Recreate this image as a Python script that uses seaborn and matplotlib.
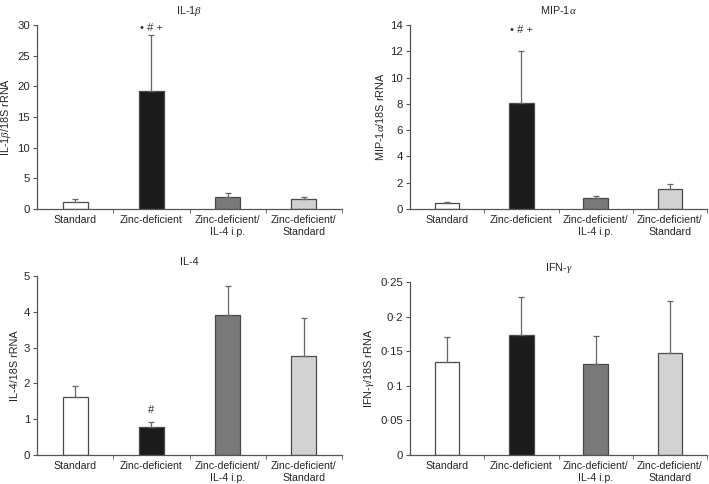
import matplotlib
matplotlib.use("Agg")
import matplotlib.pyplot as plt
import numpy as np
import pandas as pd
import seaborn as sns

GROUPS = ["Standard", "Zinc-deficient", "Zinc-deficient/\nIL-4 i.p.", "Zinc-deficient/\nStandard"]
COLORS = ["#ffffff", "#1b1b1b", "#7a7a7a", "#d2d2d2"]

# mean values and top of the (upward) error bars
IL1B_MEAN = [1.1, 19.2, 2.0, 1.7]
IL1B_TOP = [1.6, 28.4, 2.6, 2.0]
MIP_MEAN = [0.45, 8.1, 0.85, 1.55]
MIP_TOP = [0.52, 12.0, 1.02, 1.92]
IL4_MEAN = [1.62, 0.77, 3.9, 2.77]
IL4_TOP = [1.93, 0.93, 4.72, 3.83]
IFN_MEAN = [0.134, 0.173, 0.131, 0.147]
IFN_TOP = [0.170, 0.229, 0.172, 0.222]

IL1B_TICKS = [0, 5, 10, 15, 20, 25, 30]
MIP_TICKS = [0, 2, 4, 6, 8, 10, 12, 14]
IL4_TICKS = [0, 1, 2, 3, 4, 5]
IFN_TICKS = [0, 0.05, 0.1, 0.15, 0.2, 0.25]
IFN_TICK_LABELS = ["0", "0\u00b705", "0\u00b71", "0\u00b715", "0\u00b72", "0\u00b725"]

sns.set_style("ticks")
plt.rcParams["font.family"] = ["Liberation Sans", "DejaVu Sans"]
plt.rcParams["mathtext.fontset"] = "custom"
plt.rcParams["mathtext.it"] = "Liberation Serif:italic"
plt.rcParams["font.size"] = 8

AXCOL = "#555555"

fig = plt.figure(figsize=(7.09, 4.84), dpi=100)
W, H = 709, 484


def make_ax(x0, x1, ytop, ybot):
    return fig.add_axes([x0 / W, 1 - ybot / H, (x1 - x0) / W, (ybot - ytop) / H])


def panel(ax, title, ylabel, means, tops, ticks, ticklabels=None, note=None):
    df = pd.DataFrame({"group": GROUPS, "value": means})
    sns.barplot(data=df, x="group", y="value", hue="group", palette=COLORS,
                width=0.33, edgecolor="#4a4a4a", linewidth=0.9, legend=False,
                errorbar=None, ax=ax)
    xs = np.arange(len(GROUPS))
    up = np.array(tops) - np.array(means)
    ax.errorbar(xs, means, yerr=[np.zeros(len(xs)), up], fmt="none",
                ecolor="#666666", elinewidth=0.9, capsize=2.5, capthick=0.9, zorder=1)
    ax.set_xlim(-0.5, 3.5)
    ax.set_ylim(0, ticks[-1])
    ax.set_yticks(ticks)
    if ticklabels is not None:
        ax.set_yticklabels(ticklabels)
    ax.set_xticks(xs)
    ax.set_xticklabels(GROUPS, fontsize=7.6, linespacing=1.25)
    ax.set_xticks(xs + 0.5, minor=True)
    ax.tick_params(axis="x", which="major", length=0, pad=4)
    ax.tick_params(axis="x", which="minor", length=3, color=AXCOL)
    ax.tick_params(axis="y", length=3, color=AXCOL, labelsize=8.2, pad=2)
    ax.set_xlabel("")
    ax.set_ylabel(ylabel, fontsize=7.8, labelpad=3)
    ax.set_title(title, fontsize=7.8, pad=8)
    for s in ["top", "right"]:
        ax.spines[s].set_visible(False)
    for s in ["left", "bottom"]:
        ax.spines[s].set_color(AXCOL)
        ax.spines[s].set_linewidth(0.9)
    if note is not None:
        txt, idx, yv = note
        ax.text(idx, yv, txt, ha="center", va="center", fontsize=8, color="#333333")


ax1 = make_ax(37, 342, 25, 209)
panel(ax1, r"IL-1$\mathit{\beta}$", r"IL-1$\mathit{\beta}$/18S rRNA",
      IL1B_MEAN, IL1B_TOP, IL1B_TICKS, note=("\u2022 # +", 1, 29.5))

ax2 = make_ax(410, 707, 25, 209)
panel(ax2, r"MIP-1$\mathit{\alpha}$", r"MIP-1$\mathit{\alpha}$/18S rRNA",
      MIP_MEAN, MIP_TOP, MIP_TICKS, note=("\u2022 # +", 1, 13.6))

ax3 = make_ax(37, 342, 276, 455)
panel(ax3, "IL-4", "IL-4/18S rRNA", IL4_MEAN, IL4_TOP, IL4_TICKS,
      note=("#", 1, 1.25))

ax4 = make_ax(410, 707, 282, 455)
panel(ax4, r"IFN-$\mathit{\gamma}$", r"IFN-$\mathit{\gamma}$/18S rRNA",
      IFN_MEAN, IFN_TOP, IFN_TICKS, ticklabels=IFN_TICK_LABELS)

fig.savefig("out.png", dpi=100)
